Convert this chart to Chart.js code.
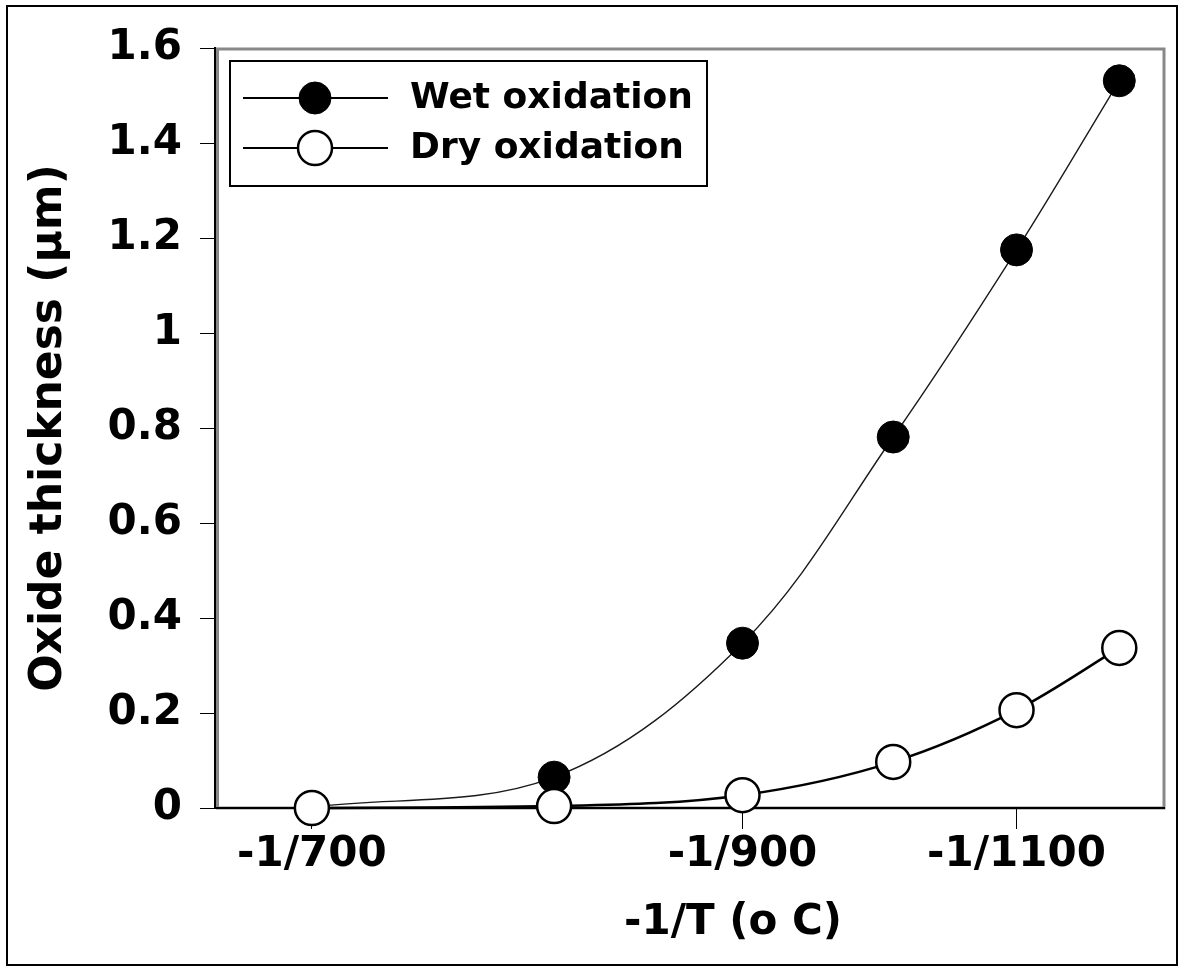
<!DOCTYPE html>
<html lang="en">
<head>
  <meta charset="UTF-8">
  <title>Oxide thickness vs -1/T</title>
  <script src="https://cdn.jsdelivr.net/npm/chart.js"></script>
  <style>
    html, body {
      margin: 0;
      padding: 0;
      background-color: #ffffff;
    }

    #wrap {
      position: relative;
      width: 1184px;
      height: 971px;
    }
  </style>
</head>
<body>

  <div id="wrap">
    <canvas id="oxideChart" width="1184" height="971"></canvas>
  </div>

  <script>
    // temperatures (o C) of the measured points
    const temps = [700, 800, 900, 1000, 1100, 1200];
    // oxide thickness in um
    const wetThickness = [0.002, 0.065, 0.347, 0.781, 1.175, 1.531];
    const dryThickness = [0.0, 0.004, 0.027, 0.097, 0.206, 0.337];
    // labelled ticks on the x axis
    const xTickTemps = [700, 900, 1100];
    const seriesLabels = ['Wet oxidation', 'Dry oxidation'];
    const xTitle = '-1/T (o C)';
    const yTitle = 'Oxide thickness (\u00b5m)';

    const FONT = "'DejaVu Sans', sans-serif";

    const toPoints = (vals) => temps.map((t, i) => ({ x: -1 / t, y: vals[i] }));

    // outer frame + grey plot frame, drawn under the axes
    const framePlugin = {
      id: 'frames',
      beforeDraw(chart) {
        const { ctx, chartArea: a } = chart;
        ctx.save();
        ctx.strokeStyle = '#000';
        ctx.lineWidth = 2;
        ctx.strokeRect(7, 6, 1170, 959);
        ctx.strokeStyle = '#888';
        ctx.lineWidth = 3;
        ctx.strokeRect(a.left + 2.5, a.top + 1, a.right - a.left - 3, a.bottom - a.top - 1);
        ctx.restore();
      }
    };

    // boxed legend (line through marker) and x-axis title
    const legendPlugin = {
      id: 'boxLegend',
      afterDraw(chart) {
        const { ctx, chartArea: a } = chart;
        const bx = a.left + 15, by = a.top + 13;
        ctx.save();
        ctx.fillStyle = '#fff';
        ctx.fillRect(bx, by, 477, 125);
        ctx.strokeStyle = '#000';
        ctx.lineWidth = 2;
        ctx.strokeRect(bx, by, 477, 125);

        const rows = [by + 37, by + 87];
        chart.data.datasets.forEach((ds, i) => {
          const y = rows[i];
          ctx.strokeStyle = '#000';
          ctx.lineWidth = 2;
          ctx.beginPath();
          ctx.moveTo(bx + 13, y);
          ctx.lineTo(bx + 158, y);
          ctx.stroke();

          ctx.beginPath();
          ctx.arc(bx + 85, y, ds.pointRadius, 0, Math.PI * 2);
          ctx.fillStyle = ds.pointBackgroundColor;
          ctx.fill();
          ctx.lineWidth = ds.pointBorderWidth;
          ctx.strokeStyle = ds.pointBorderColor;
          ctx.stroke();

          ctx.fillStyle = '#000';
          ctx.font = 'bold 36px ' + FONT;
          ctx.textAlign = 'left';
          ctx.textBaseline = 'middle';
          ctx.fillText(ds.label, bx + 180, y + 1);
        });

        ctx.font = 'bold 42px ' + FONT;
        ctx.textAlign = 'center';
        ctx.textBaseline = 'middle';
        ctx.fillText(xTitle, 733, 923);
        ctx.restore();
      }
    };

    const ctx = document.getElementById('oxideChart').getContext('2d');

    new Chart(ctx, {
      type: 'line',
      data: {
        datasets: [
          {
            label: seriesLabels[0],
            data: toPoints(wetThickness),
            order: 2,
            borderColor: '#1a1a1a',
            borderWidth: 1.4,
            pointRadius: 16,
            pointBackgroundColor: '#000',
            pointBorderColor: '#000',
            pointBorderWidth: 1,
            tension: 0.35,
            clip: false
          },
          {
            label: seriesLabels[1],
            data: toPoints(dryThickness),
            order: 1,
            borderColor: '#000',
            borderWidth: 2.5,
            pointRadius: 17,
            pointBackgroundColor: '#fff',
            pointBorderColor: '#000',
            pointBorderWidth: 2.5,
            cubicInterpolationMode: 'monotone',
            clip: false
          }
        ]
      },
      options: {
        responsive: false,
        devicePixelRatio: 1,
        animation: false,
        events: [],
        layout: {
          padding: { left: 10, right: 18, top: 48, bottom: 10 }
        },
        plugins: {
          legend: { display: false },
          tooltip: { enabled: false }
        },
        scales: {
          x: {
            type: 'linear',
            min: -0.0015,
            max: -0.0008,
            afterFit(scale) { scale.height = 153; },
            afterBuildTicks(scale) {
              scale.ticks = xTickTemps.map(t => ({ value: -1 / t }));
            },
            ticks: {
              color: '#000',
              padding: 1,
              maxRotation: 0,
              autoSkip: false,
              font: { family: FONT, size: 42, weight: 'bold' },
              callback: (v) => '-1/' + Math.round(-1 / v)
            },
            grid: {
              drawOnChartArea: false,
              tickLength: 21,
              color: '#000',
              lineWidth: 1
            },
            border: { color: '#000', width: 2 }
          },
          y: {
            min: 0,
            max: 1.6,
            afterFit(scale) { scale.width = 205; },
            ticks: {
              stepSize: 0.2,
              color: '#000',
              padding: 18,
              font: { family: FONT, size: 42, weight: 'bold' },
              callback: (v) => String(+v.toFixed(1))
            },
            grid: {
              drawOnChartArea: false,
              tickLength: 15,
              color: '#000',
              lineWidth: 1
            },
            border: { color: '#000', width: 2 },
            title: {
              display: true,
              text: yTitle,
              color: '#000',
              padding: { top: 13, bottom: 0 },
              font: { family: FONT, size: 44, weight: 'bold' }
            }
          }
        }
      },
      plugins: [framePlugin, legendPlugin]
    });
  </script>

</body>
</html>
